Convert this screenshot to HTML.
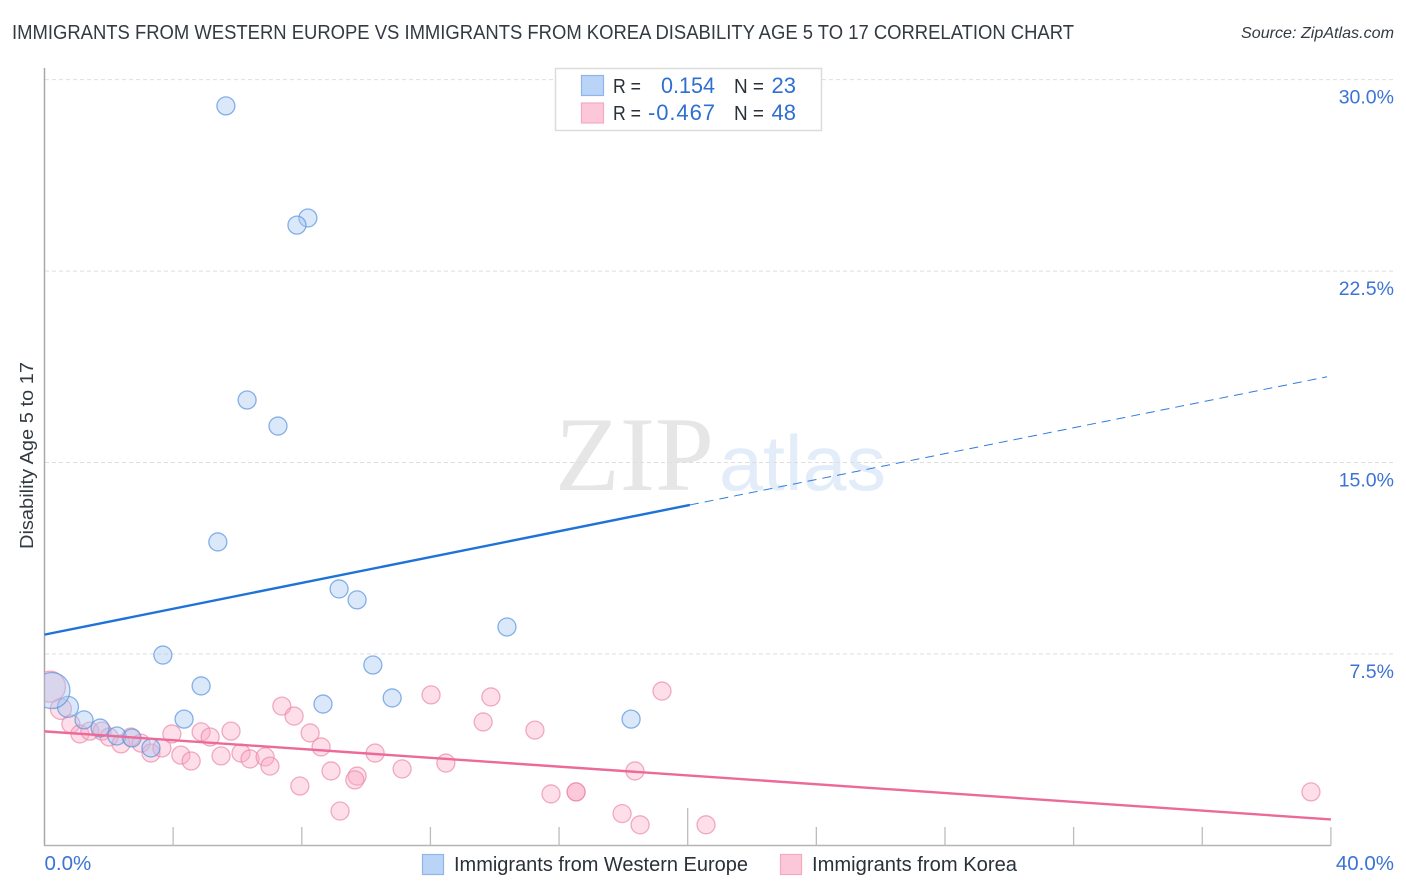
<!DOCTYPE html>
<html>
<head>
<meta charset="utf-8">
<style>
html,body{margin:0;padding:0;background:#fff;}
svg{display:block;font-family:"Liberation Sans",sans-serif;}
</style>
</head>
<body>
<svg id="chart" width="1406" height="892" viewBox="0 0 1406 892" xmlns="http://www.w3.org/2000/svg">
<defs><clipPath id="plot-clip"><rect x="44.5" y="60" width="1350" height="786"/></clipPath></defs>
<rect x="0" y="0" width="1406" height="892" fill="#fff"/>
<text x="12" y="39" font-size="20" fill="#333a42" textLength="1062" lengthAdjust="spacingAndGlyphs">IMMIGRANTS FROM WESTERN EUROPE VS IMMIGRANTS FROM KOREA DISABILITY AGE 5 TO 17 CORRELATION CHART</text>
<text x="1241" y="38" font-size="16" font-style="italic" fill="#333a42" textLength="153" lengthAdjust="spacingAndGlyphs">Source: ZipAtlas.com</text>
<text x="555" y="490" font-family="'Liberation Serif',serif" font-size="106" fill="#e6e6e6" textLength="159" lengthAdjust="spacingAndGlyphs">ZIP</text>
<text x="719" y="490" font-size="78" fill="#e3ecf9" textLength="167" lengthAdjust="spacingAndGlyphs">atlas</text>
<g id="grid"></g>
<g id="axes"></g>
<g id="points" clip-path="url(#plot-clip)"></g>
<g id="trends"></g>
<text x="0" y="0" transform="translate(33,455.5) rotate(-90)" font-size="18.5" fill="#333a42" text-anchor="middle" textLength="187" lengthAdjust="spacingAndGlyphs">Disability Age 5 to 17</text>
<g>
<rect x="555.5" y="68.5" width="266" height="62" fill="#fff" stroke="#dcdcdc" stroke-width="1.5"/>
<rect x="581.5" y="75.5" width="22" height="20" fill="#b9d4f7" stroke="#8fb6e8" stroke-width="1.2"/>
<rect x="581.5" y="103" width="22" height="20" fill="#fcc8d9" stroke="#f4a9c2" stroke-width="1.2"/>
<text x="613" y="93" font-size="20" fill="#2b3138" textLength="28" lengthAdjust="spacingAndGlyphs">R =</text>
<text x="661" y="93" font-size="22" fill="#2f6fd0" textLength="54" lengthAdjust="spacingAndGlyphs">0.154</text>
<text x="734" y="93" font-size="20" fill="#2b3138" textLength="30" lengthAdjust="spacingAndGlyphs">N =</text>
<text x="796" y="93" font-size="22" fill="#2f6fd0" text-anchor="end">23</text>
<text x="613" y="120" font-size="20" fill="#2b3138" textLength="28" lengthAdjust="spacingAndGlyphs">R =</text>
<text x="648" y="120" font-size="22" fill="#2f6fd0" textLength="67" lengthAdjust="spacing">-0.467</text>
<text x="734" y="120" font-size="20" fill="#2b3138" textLength="30" lengthAdjust="spacingAndGlyphs">N =</text>
<text x="796" y="120" font-size="22" fill="#2f6fd0" text-anchor="end">48</text>
</g>
<g>
<rect x="422.5" y="854.5" width="21" height="20" fill="#b9d4f7" stroke="#8fb6e8" stroke-width="1.2"/>
<text x="454" y="871" font-size="20" fill="#2b3138" textLength="294" lengthAdjust="spacingAndGlyphs">Immigrants from Western Europe</text>
<rect x="780.5" y="854.5" width="21" height="20" fill="#fcc8d9" stroke="#f4a9c2" stroke-width="1.2"/>
<text x="812" y="871" font-size="20" fill="#2b3138" textLength="205" lengthAdjust="spacingAndGlyphs">Immigrants from Korea</text>
</g>
<script>
var yTickValues = [30, 22.5, 15, 7.5];
var yTickLabels = ['30.0%', '22.5%', '15.0%', '7.5%'];
var xTickValues = [0, 4, 8, 12, 16, 20, 24, 28, 32, 36, 40];
var xEdgeValues = [0, 40];
var xEdgeLabels = ['0.0%', '40.0%'];
var blueX = [5.64, 8.19, 7.85, 6.30, 7.26, 5.39, 9.16, 9.72, 14.38, 3.68, 10.21, 4.87, 10.81, 8.66, 0.73, 1.23, 4.34, 18.24, 1.73, 2.25, 2.72, 3.31, 0.23];
var blueY = [28.97, 24.58, 24.30, 17.45, 16.43, 11.89, 10.05, 9.62, 8.56, 7.46, 7.07, 6.25, 5.78, 5.54, 5.43, 4.92, 4.95, 4.95, 4.60, 4.29, 4.21, 3.82, 6.07];
var blueSize = [9, 9, 9, 9, 9, 9, 9, 9, 9, 9, 9, 9, 9, 9, 10.5, 9, 9, 9, 9, 9, 9, 9, 18];
var pinkX = [0.51, 0.82, 1.10, 1.41, 1.79, 2.01, 2.38, 2.69, 3.00, 3.31, 3.65, 3.96, 4.24, 4.56, 4.87, 5.15, 5.49, 5.80, 6.11, 6.39, 6.86, 7.01, 7.38, 7.76, 8.26, 8.60, 8.91, 7.94, 9.19, 12.02, 13.88, 13.64, 15.25, 19.20, 10.28, 12.48, 11.12, 9.72, 9.65, 15.75, 16.53, 16.53, 18.36, 17.96, 18.52, 20.57, 39.38, 0.17];
var pinkY = [5.35, 4.76, 4.37, 4.48, 4.48, 4.25, 3.98, 4.25, 4.01, 3.62, 3.82, 4.37, 3.54, 3.31, 4.45, 4.25, 3.51, 4.48, 3.62, 3.39, 3.47, 3.11, 5.46, 5.07, 4.41, 3.86, 2.92, 2.33, 1.35, 5.90, 5.82, 4.84, 4.52, 6.05, 3.62, 3.23, 3.00, 2.72, 2.57, 2.02, 2.10, 2.10, 2.92, 1.25, 0.81, 0.81, 2.10, 6.22];
var pinkSize = [10.5, 9, 9, 9, 9, 9, 9, 9, 9, 9, 9, 9, 9, 9, 9, 9, 9, 9, 9, 9, 9, 9, 9, 9, 9, 9, 9, 9, 9, 9, 9, 9, 9, 9, 9, 9, 9, 9, 9, 9, 9, 9, 9, 9, 9, 9, 9, 15.5];
var blueTrendX = [0, 20.07, 39.88];
var blueTrendY = [8.26, 13.34, 18.36];
var pinkTrendX = [0, 40];
var pinkTrendY = [4.47, 1.02];

var NS = 'http://www.w3.org/2000/svg';
function xPos(v) { return 44.5 + v * 32.16; }
function yPos(v) { return 845.5 - v * 25.53; }
function make(tag, parent, attrs, text) {
  var el = document.createElementNS(NS, tag);
  for (var k in attrs) { el.setAttribute(k, attrs[k]); }
  if (text !== undefined) { el.textContent = text; }
  parent.appendChild(el);
  return el;
}
var grid = document.getElementById('grid');
var axes = document.getElementById('axes');
var pts = document.getElementById('points');
var trends = document.getElementById('trends');

yTickValues.forEach(function (v, i) {
  var line = make('line', grid, {x1: 45, x2: 1394, y1: yPos(v), y2: yPos(v), stroke: '#dedede', 'stroke-width': 1, 'stroke-dasharray': '4 3'});
  
  
  var label = make('text', axes, {x: 1394, y: yPos(v) + 24, 'font-size': 19.5, fill: '#3b74d4', 'text-anchor': 'end'}, yTickLabels[i]);
  
  
});
var yAxis = make('line', axes, {x1: 44.5, x2: 44.5, y1: 68, y2: 846, stroke: '#a8a8a8', 'stroke-width': 1.5});


var xAxis = make('line', axes, {x1: 44, x2: 1331, y1: 845.5, y2: 845.5, stroke: '#b4b4b4', 'stroke-width': 1.5});


xTickValues.slice(1).forEach(function (v) {
  var tall = v === 20;
  var tick = make('line', axes, {x1: xPos(v), x2: xPos(v), y1: tall ? 808 : 827, y2: 845.5, stroke: '#bdbdbd', 'stroke-width': 1.3});
  
  
});
xEdgeValues.forEach(function (v, i) {
  var label = make('text', axes, {x: i === 0 ? xPos(v) : 1394, y: 870, 'font-size': 20.5, fill: '#3b74d4', 'text-anchor': i === 0 ? 'start' : 'end'}, xEdgeLabels[i]);
  
  
});
pinkX.forEach(function (v, i) {
  var c = make('circle', pts, {cx: xPos(v), cy: yPos(pinkY[i]), r: pinkSize[i], fill: '#f9a8c4', 'fill-opacity': 0.38, stroke: '#e98aab', 'stroke-opacity': 0.7, 'stroke-width': 1.3});
  
  
});
blueX.forEach(function (v, i) {
  var c = make('circle', pts, {cx: xPos(v), cy: yPos(blueY[i]), r: blueSize[i], fill: '#a6c8f2', 'fill-opacity': 0.42, stroke: '#5a96de', 'stroke-opacity': 0.72, 'stroke-width': 1.3});
  
  
});
var blueSolid = make('line', trends, {x1: xPos(blueTrendX[0]), y1: yPos(blueTrendY[0]), x2: xPos(blueTrendX[1]), y2: yPos(blueTrendY[1]), stroke: '#1f72d8', 'stroke-width': 2.4});


var blueDash = make('line', trends, {x1: xPos(blueTrendX[1]), y1: yPos(blueTrendY[1]), x2: xPos(blueTrendX[2]), y2: yPos(blueTrendY[2]), stroke: '#2f7cdc', 'stroke-width': 1, 'stroke-dasharray': '9 6'});


var pinkLine = make('line', trends, {x1: xPos(pinkTrendX[0]), y1: yPos(pinkTrendY[0]), x2: xPos(pinkTrendX[1]), y2: yPos(pinkTrendY[1]), stroke: '#ec6a9a', 'stroke-width': 2.4});


</script>
</svg>
</body>
</html>
